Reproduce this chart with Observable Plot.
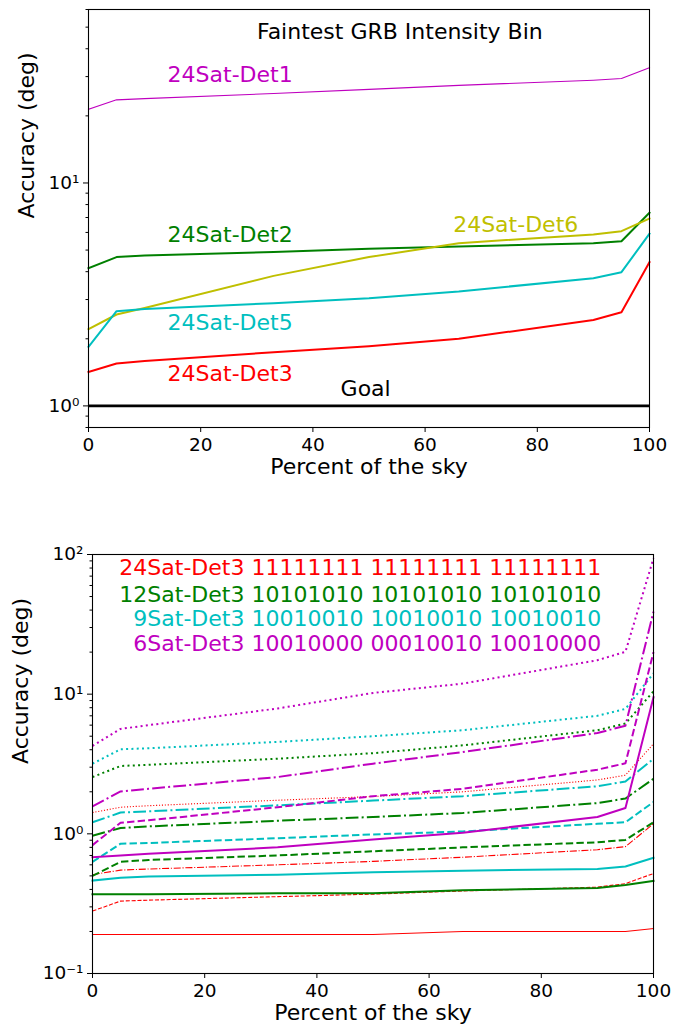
<!DOCTYPE html>
<html><head><meta charset="utf-8">
<script src="https://cdn.jsdelivr.net/npm/d3@7"></script>
<script src="https://cdn.jsdelivr.net/npm/@observablehq/plot@0.6"></script>
<style>
html,body{margin:0;padding:0;background:#fff;}
#top,#bottom{position:absolute;left:0;}
#top{top:0}
#bottom{top:515px}
</style></head><body>
<div id="top"></div><div id="bottom"></div>
<script>
// ---------- shared ----------
const pct = [0, 5, 10, 33, 50, 66, 90, 95, 100];
const xTicks = [0, 20, 40, 60, 80, 100];

// ---------- top panel: faintest GRB intensity bin ----------
const det1 = [21.4, 23.6, 23.9, 25.2, 26.3, 27.4, 28.9, 29.4, 32.9];
const det2 = [4.15, 4.65, 4.73, 4.9, 5.07, 5.19, 5.37, 5.48, 7.36];
const det6 = [2.21, 2.57, 2.75, 3.83, 4.65, 5.37, 5.88, 6.08, 6.92];
const det5 = [1.84, 2.66, 2.72, 2.89, 3.04, 3.26, 3.74, 3.98, 5.92];
const det3 = [1.42, 1.55, 1.59, 1.74, 1.85, 2.00, 2.43, 2.63, 4.41];
const goal = [1];
const topLabels = ["24Sat-Det1", "24Sat-Det2", "24Sat-Det6", "24Sat-Det5", "24Sat-Det3"];
const topLabelX = [14.1, 14.1, 65.0, 14.1, 14.1];
const topLabelY = [30.5, 5.84, 6.45, 2.36, 1.39];
const topTitle = "Faintest GRB Intensity Bin";
const topMajor = [1, 10];
const topMajorLabels = ["10⁰", "10¹"];
const topMinor = [0.8, 0.9, 2, 3, 4, 5, 6, 7, 8, 9, 20, 30, 40, 50, 60];

// ---------- bottom panel: constellations, four intensity bins ----------
const sat24_solid   = [0.19, 0.19, 0.19, 0.19, 0.19, 0.20, 0.20, 0.20, 0.21];
const sat24_dashed  = [0.28, 0.33, 0.335, 0.355, 0.37, 0.39, 0.415, 0.44, 0.52];
const sat24_dashdot = [0.51, 0.55, 0.56, 0.60, 0.635, 0.68, 0.77, 0.81, 1.18];
const sat24_dotted  = [1.42, 1.55, 1.59, 1.74, 1.85, 2.00, 2.43, 2.63, 4.41];
const sat12_solid   = [0.37, 0.37, 0.37, 0.375, 0.375, 0.395, 0.41, 0.43, 0.46];
const sat12_dashed  = [0.50, 0.63, 0.65, 0.70, 0.75, 0.80, 0.87, 0.905, 1.21];
const sat12_dashdot = [0.97, 1.10, 1.13, 1.24, 1.32, 1.41, 1.66, 1.79, 2.48];
const sat12_dotted  = [2.55, 3.06, 3.12, 3.45, 3.78, 4.30, 5.52, 6.16, 10.5];
const sat9_solid    = [0.463, 0.484, 0.494, 0.51, 0.53, 0.545, 0.56, 0.583, 0.673];
const sat9_dashed   = [0.63, 0.85, 0.86, 0.93, 0.99, 1.04, 1.18, 1.21, 1.69];
const sat9_dashdot  = [1.21, 1.42, 1.45, 1.60, 1.73, 1.86, 2.19, 2.37, 3.45];
const sat9_dotted   = [3.18, 4.03, 4.1, 4.55, 5.0, 5.52, 7.0, 7.85, 14.1];
const sat6_solid    = [0.68, 0.70, 0.72, 0.80, 0.91, 1.02, 1.32, 1.53, 9.5];
const sat6_dashed   = [0.83, 1.20, 1.25, 1.55, 1.86, 2.10, 2.88, 3.2, 20];
const sat6_dashdot  = [1.57, 2.01, 2.10, 2.55, 3.18, 3.85, 5.27, 5.95, 39];
const sat6_dotted   = [4.26, 5.64, 6.0, 7.9, 10.2, 11.9, 17.5, 20.1, 94];
const legendLines = [
  "24Sat-Det3 11111111 11111111 11111111",
  "12Sat-Det3 10101010 10101010 10101010",
  "9Sat-Det3 10010010 10010010 10010010",
  "6Sat-Det3 10010000 00010010 10010000"
];
const legendX = [90.7, 90.7, 90.7, 90.7];
const legendY = [80.3, 51.4, 34.3, 22.7];
const botMajor = [0.1, 1, 10, 100];
const botMajorLabels = ["10⁻¹", "10⁰", "10¹", "10²"];
const botMinor = [0.2, 0.3, 0.4, 0.5, 0.6, 0.7, 0.8, 0.9, 2, 3, 4, 5, 6, 7, 8, 9, 20, 30, 40, 50, 60, 70, 80, 90];

// ---------- styles ----------
const RED = "#ff0000", GREEN = "#008000", CYAN = "#00bfbf", MAG = "#bf00bf", YEL = "#bfbf00";
const FONT = "DejaVu Sans";
function dashes(style, lw) {
  if (style === "dashed") return [3.7 * lw, 1.6 * lw].join(",");
  if (style === "dashdot") return [6.4 * lw, 1.6 * lw, 1 * lw, 1.6 * lw].join(",");
  if (style === "dotted") return [1 * lw, 1.65 * lw].join(",");
  return null;
}
function series(vals, color, lw, style) {
  const rows = pct.map((x, i) => ({x, y: vals[i]}));
  const o = {x: "x", y: "y", stroke: color, strokeWidth: lw, strokeLinejoin: "round",
             strokeLinecap: style === "solid" ? "square" : "butt"};
  const d = dashes(style, lw);
  if (d) o.strokeDasharray = d;
  return Plot.line(rows, o);
}
function axes(major, majorLabels, minor, labelDy, yLabelDx) {
  return [
    Plot.axisX({ticks: xTicks, tickSize: 5, tickPadding: 5, label: null, fontSize: 18.5}),
    Plot.axisY({ticks: major, tickSize: 5, tickPadding: 4, label: null, fontSize: 18.5,
                tickFormat: d => majorLabels[major.indexOf(d)]}),
    Plot.axisY({ticks: minor, tickSize: 2.5, label: null, tickFormat: () => ""}),
    Plot.text(["Percent of the sky"], {frameAnchor: "bottom", dy: labelDy, fontSize: 22, fill: "black"}),
    Plot.text(["Accuracy (deg)"], {frameAnchor: "left", dx: yLabelDx, rotate: -90, fontSize: 22, fill: "black"}),
    Plot.frame({stroke: "black", strokeWidth: 1.1})
  ];
}

// ---------- top chart ----------
const topColors = [MAG, GREEN, YEL, CYAN, RED];
const topChart = Plot.plot({
  width: 683, height: 515,
  marginLeft: 88, marginRight: 34, marginTop: 9, marginBottom: 88,
  style: {fontFamily: FONT, fontSize: "18.5px", background: "white", color: "black"},
  x: {domain: [0, 100]},
  y: {type: "log", domain: [0.8, 60]},
  marks: [
    series(det1, MAG, 1.1, "solid"),
    series(det2, GREEN, 2, "solid"),
    series(det6, YEL, 2, "solid"),
    series(det5, CYAN, 2, "solid"),
    series(det3, RED, 2, "solid"),
    Plot.ruleY(goal, {stroke: "black", strokeWidth: 2.6}),
    Plot.text(goal, {x: 49.4, y: d => d * 1.19, text: () => "Goal", fontSize: 22, fill: "black"}),
    Plot.text(topLabels, {x: (d, i) => topLabelX[i], y: (d, i) => topLabelY[i], text: d => d,
      fill: (d, i) => topColors[i], textAnchor: "start", fontSize: 22}),
    Plot.text([topTitle], {x: 55.5, y: 47.8, text: d => d, fontSize: 22, fill: "black"}),
    ...axes(topMajor, topMajorLabels, topMinor, 46, -62)
  ]
});
document.getElementById("top").appendChild(topChart);

// ---------- bottom chart ----------
const legendColors = [RED, GREEN, CYAN, MAG];
const botChart = Plot.plot({
  width: 683, height: 515,
  marginLeft: 92, marginRight: 30, marginTop: 39, marginBottom: 57,
  style: {fontFamily: FONT, fontSize: "18.5px", background: "white", color: "black"},
  x: {domain: [0, 100]},
  y: {type: "log", domain: [0.1, 100]},
  marks: [
    series(sat24_solid, RED, 1.1, "solid"),
    series(sat24_dashed, RED, 1.1, "dashed"),
    series(sat24_dashdot, RED, 1.1, "dashdot"),
    series(sat24_dotted, RED, 1.1, "dotted"),
    series(sat12_solid, GREEN, 2, "solid"),
    series(sat12_dashed, GREEN, 2, "dashed"),
    series(sat12_dashdot, GREEN, 2, "dashdot"),
    series(sat12_dotted, GREEN, 2, "dotted"),
    series(sat9_solid, CYAN, 2, "solid"),
    series(sat9_dashed, CYAN, 2, "dashed"),
    series(sat9_dashdot, CYAN, 2, "dashdot"),
    series(sat9_dotted, CYAN, 2, "dotted"),
    series(sat6_solid, MAG, 2, "solid"),
    series(sat6_dashed, MAG, 2, "dashed"),
    series(sat6_dashdot, MAG, 2, "dashdot"),
    series(sat6_dotted, MAG, 2, "dotted"),
    Plot.text(legendLines, {x: (d, i) => legendX[i], y: (d, i) => legendY[i], text: d => d,
      fill: (d, i) => legendColors[i], textAnchor: "end", fontSize: 22}),
    ...axes(botMajor, botMajorLabels, botMinor, 46, -72)
  ]
});
document.getElementById("bottom").appendChild(botChart);
</script>
</body></html>
